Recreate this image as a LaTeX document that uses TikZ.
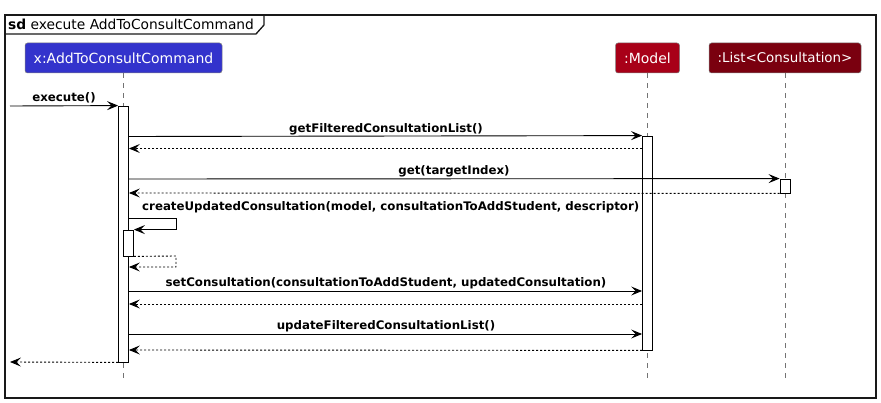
\documentclass[tikz,border=0pt]{standalone}
\usepackage{fontspec}
\setmainfont{DejaVu Sans}
\usetikzlibrary{arrows.meta}
\definecolor{cmdblue}{HTML}{3333CC}
\definecolor{modelred}{HTML}{A80018}
\definecolor{listred}{HTML}{7A000F}
\begin{document}
\begin{tikzpicture}[x=1pt,y=-1pt,
  part/.style={rounded corners=2.5pt, minimum height=30pt, inner sep=0pt, text=white,
    font=\fontsize{14}{16}\selectfont, draw=black!50, line width=0.5pt},
  act/.style={draw=black, fill=white, line width=0.8pt, minimum width=10pt, inner sep=0pt},
  lifeline/.style={draw=black!55, dash pattern=on 5pt off 5pt, line width=0.7pt},
  msg/.style={draw=black, line width=0.9pt, -{Stealth[length=11pt,width=9pt,inset=4.5pt]}},
  ret/.style={msg, dash pattern=on 2pt off 2pt},
  lbl/.style={font=\bfseries\fontsize{11.8}{13}\selectfont, inner sep=0pt, anchor=base},
  frame/.style={draw=black!90, line width=1.3pt}]
\useasboundingbox (0,0) rectangle (881,403);
% frame
\draw[frame] (5,15) rectangle (876,398);
\draw[frame] (5,34) -- (256,34) -- (264,25) -- (264,15);
\node[anchor=base west, inner sep=0pt, font=\fontsize{13.8}{16}\selectfont] (title) at (8,29.5) {\textbf{sd} execute AddToConsultCommand};
% participants
\node[part, fill=cmdblue, minimum width=197pt] (cmd) at (123.5,58) {x:AddToConsultCommand};
\node[part, fill=modelred, minimum width=64pt] (model) at (647.5,58) {:Model};
\node[part, fill=listred, minimum width=152pt, font=\fontsize{13.4}{16}\selectfont] (list) at (785,58) {:List<Consultation>};
% lifelines
\coordinate (cmdend) at (123.5,380);
\coordinate (modelend) at (647.5,380);
\coordinate (listend) at (785,380);
\draw[lifeline] (cmd.south) -- (cmdend);
\draw[lifeline] (model.south) -- (modelend);
\draw[lifeline] (list.south) -- (listend);
% activations
\node[act, minimum height=256pt] (cmdact) at (123.5,234) {};
\node[act, minimum height=214pt] (modact) at (647.5,243) {};
\node[act, minimum height=14pt] (listact) at (785,186) {};
\node[act, minimum height=26pt] (nestact) at (128.5,243) {};
% execute
\coordinate (start) at (10,106);
\draw[msg] (start) -- (cmdact.north west);
\node[lbl] (l0) at (64,102) {execute()};
% getFilteredConsultationList
\draw[msg] (cmdact.east |- 0,136.5) -- (modact.north west);
\node[lbl] (l1) at (386,132.5) {getFilteredConsultationList()};
\draw[ret] (modact.west |- 0,148.5) -- (cmdact.east |- 0,148.5);
% get
\draw[msg] (cmdact.east |- 0,179) -- (listact.north west);
\node[lbl] (l2) at (454,175) {get(targetIndex)};
\draw[ret] (listact.south west) -- (cmdact.east |- 0,193);
% self call
\node[lbl, anchor=base west] (l3) at (142,211) {createUpdatedConsultation(model, consultationToAddStudent, descriptor)};
\coordinate (selfout) at (176,218);
\draw[msg] (cmdact.east |- selfout) -- (selfout) |- (nestact.north east);
\coordinate (selfret) at (176,256);
\draw[ret] (nestact.south east) -- (selfret) |- (cmdact.east |- 0,267);
% setConsultation
\draw[msg] (cmdact.east |- 0,291) -- (modact.west |- 0,291);
\node[lbl] (l4) at (386,287) {setConsultation(consultationToAddStudent, updatedConsultation)};
\draw[ret] (modact.west |- 0,304) -- (cmdact.east |- 0,304);
% updateFilteredConsultationList
\draw[msg] (cmdact.east |- 0,334) -- (modact.west |- 0,334);
\node[lbl] (l5) at (386,330) {updateFilteredConsultationList()};
\draw[ret] (modact.south west) -- (cmdact.east |- 0,350);
% final return
\coordinate (endleft) at (10,362);
\draw[ret] (cmdact.south west) -- (endleft);
\end{tikzpicture}
\end{document}
